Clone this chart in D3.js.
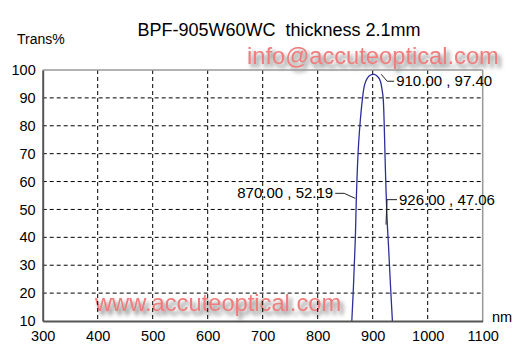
<!DOCTYPE html>
<html><head><meta charset="utf-8">
<script src="https://cdn.jsdelivr.net/npm/d3@7"></script>
<style>body{margin:0;background:#fff;}svg{display:block;font-family:Arial,"Liberation Sans",sans-serif;}text{white-space:pre;}</style>
</head><body><svg id="c" width="520" height="361"></svg>
<script>
const wavelengths = [859, 862, 864.5, 866.5, 868.5, 870, 872, 874.5, 877.5, 881, 885, 890, 896, 903, 910, 914, 917, 919, 921, 923, 926, 929, 932, 935, 938];
const transmission = [0, 10, 20, 30, 40, 52.19, 64, 74, 82, 89, 94.5, 97, 98.2, 98.4, 97.4, 96, 93, 90, 80, 65, 47.06, 36, 24, 13, 2];
const xTicks = [300, 400, 500, 600, 700, 800, 900, 1000, 1100];
const yTicks = [10, 20, 30, 40, 50, 60, 70, 80, 90, 100];
const annotations = [
  {x: 910, y: 97.40, text: "910.00 , 97.40", side: "right-top"},
  {x: 870, y: 52.19, text: "870.00 , 52.19", side: "left"},
  {x: 926, y: 47.06, text: "926.00 , 47.06", side: "right-up"}
];
const title = "BPF-905W60WC  thickness 2.1mm";

const svg = d3.select("#c");
const x = d3.scaleLinear().domain([300, 1100]).range([42.7, 482.7]);
const y = d3.scaleLinear().domain([10, 100]).range([321, 70]);

const defs = svg.append("defs");
const f = defs.append("filter").attr("id", "sh").attr("x", "-10%").attr("y", "-50%").attr("width", "120%").attr("height", "200%");
f.append("feGaussianBlur").attr("in", "SourceAlpha").attr("stdDeviation", 2.2).attr("result", "b");
f.append("feOffset").attr("in", "b").attr("dx", 3).attr("dy", 4).attr("result", "o");
f.append("feFlood").attr("flood-color", "#707070").attr("flood-opacity", 1).attr("result", "fc");
f.append("feComposite").attr("in", "fc").attr("in2", "o").attr("operator", "in").attr("result", "s");
const m = f.append("feMerge");
m.append("feMergeNode").attr("in", "s");
m.append("feMergeNode").attr("in", "SourceGraphic");
defs.append("clipPath").attr("id", "clip").append("rect")
  .attr("x", x(300)).attr("y", y(100)).attr("width", x(1100) - x(300)).attr("height", y(10) - y(100));

// watermarks
function watermark(t, px, py) {
  svg.append("text").attr("x", px).attr("y", py).attr("font-size", 23.7)
    .attr("fill", "#f07b7b").attr("filter", "url(#sh)").text(t);
}
watermark("info@accuteoptical.com", 247, 64);
watermark("www.accuteoptical.com", 95, 311);

// grid
const g = svg.append("g");
g.selectAll(".vg").data(xTicks.filter(d => d > 300 && d < 1100)).enter().append("line")
  .attr("x1", d => x(d)).attr("x2", d => x(d)).attr("y1", y(100)).attr("y2", y(10))
  .attr("stroke", "#000").attr("stroke-width", 1).attr("stroke-dasharray", "4,3");
g.selectAll(".hg").data(yTicks.filter(d => d > 10 && d < 100)).enter().append("line")
  .attr("x1", x(300)).attr("x2", x(1100)).attr("y1", d => y(d)).attr("y2", d => y(d))
  .attr("stroke", "#000").attr("stroke-width", 1).attr("stroke-dasharray", "4,3");

// border
svg.append("line").attr("x1", x(300)).attr("x2", x(1100)).attr("y1", y(100)).attr("y2", y(100)).attr("stroke", "#999").attr("stroke-width", 1.5);
svg.append("line").attr("x1", x(1100)).attr("x2", x(1100)).attr("y1", y(100)).attr("y2", y(10)).attr("stroke", "#999").attr("stroke-width", 1.5);

// curve
const pts = wavelengths.map((w, i) => [w, transmission[i]]);
svg.append("path").datum(pts).attr("clip-path", "url(#clip)")
  .attr("fill", "none").attr("stroke", "#2e2e9a").attr("stroke-width", 1.3)
  .attr("d", d3.line().x(d => x(d[0])).y(d => y(d[1])).curve(d3.curveCatmullRom.alpha(0.5)));

// axes
const xAxis = d3.axisBottom(x).tickValues(xTicks).tickSize(0).tickPadding(10).tickFormat(d3.format("d"));
const yAxis = d3.axisLeft(y).tickValues(yTicks).tickSize(0).tickPadding(7).tickFormat(d3.format("d"));
const gx = svg.append("g").attr("transform", `translate(0,${y(10)})`).call(xAxis);
const gy = svg.append("g").attr("transform", `translate(${x(300)},0)`).call(yAxis);
[gx, gy].forEach(a => {
  a.select(".domain").attr("stroke", "#555").attr("stroke-width", 2);
  a.selectAll("text").attr("font-size", 14.5).attr("fill", "#000").attr("font-family", "Arial, 'Liberation Sans', sans-serif");
});

// labels
svg.append("text").attr("x", 279).attr("y", 36).attr("text-anchor", "middle").attr("font-size", 18).text(title);
svg.append("text").attr("x", 17).attr("y", 44).attr("font-size", 14).text("Trans%");
svg.append("text").attr("x", 492).attr("y", 322).attr("font-size", 14.5).text("nm");

// annotations
annotations.forEach(a => {
  const cx = x(a.x), cy = y(a.y);
  let path, tx, ty, anchor;
  if (a.side === "right-top") {
    path = [[cx + 3, cy - 3], [cx + 9, cy + 4], [cx + 16, cy + 4]];
    tx = cx + 18; ty = cy + 9; anchor = "start";
  } else if (a.side === "left") {
    path = [[cx - 1, cy - 5], [cx - 12, cy - 10], [cx - 21, cy - 10]];
    tx = cx - 23; ty = cy - 5; anchor = "end";
  } else {
    path = [[cx - 1, cy + 7], [cx, cy - 18], [cx + 10, cy - 18]];
    tx = cx + 12; ty = cy - 13; anchor = "start";
  }
  svg.append("path").attr("d", d3.line()(path)).attr("fill", "none").attr("stroke", "#222").attr("stroke-width", 1);
  svg.append("text").attr("x", tx).attr("y", ty).attr("text-anchor", anchor).attr("font-size", 15).text(a.text);
});
</script></body></html>
